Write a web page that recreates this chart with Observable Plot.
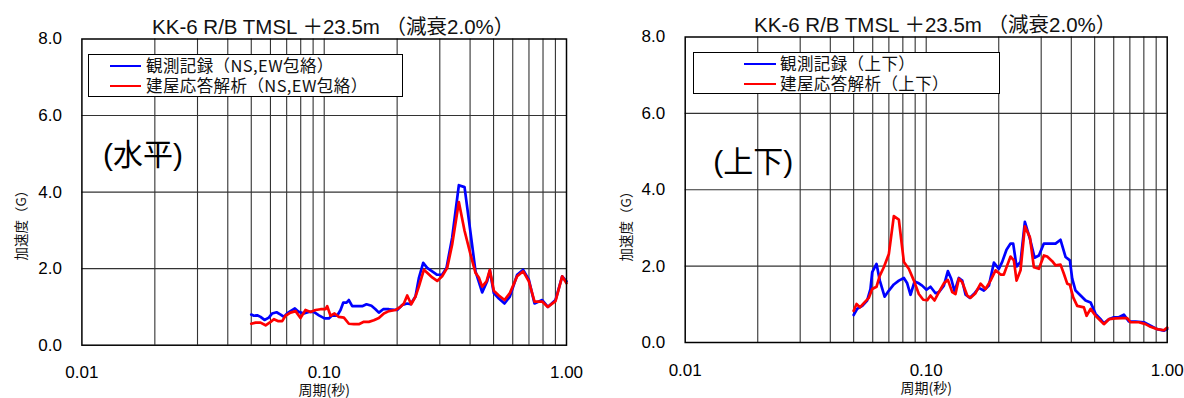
<!DOCTYPE html>
<html><head><meta charset="utf-8">
<script src="https://cdn.jsdelivr.net/npm/d3@7"></script>
<script src="https://cdn.jsdelivr.net/npm/@observablehq/plot@0.6"></script>
<style>
body{margin:0;background:#fff;}
#wrap{position:relative;width:1184px;height:398px;overflow:hidden;font-family:"Liberation Sans","Noto Sans CJK JP",sans-serif;}
.panel{position:absolute;top:0;width:592px;height:398px;}
.legend{position:absolute;border:1px solid #000;background:#fff;box-sizing:border-box;}
.item{position:absolute;font-size:16.5px;line-height:17px;height:17px;white-space:nowrap;font-family:"Noto Sans CJK JP",sans-serif;color:#111;letter-spacing:0.4px;}
.swatch{position:absolute;height:2px;}
.ylab{position:absolute;font-size:13.5px;line-height:14px;white-space:nowrap;font-family:"Noto Sans CJK JP",sans-serif;color:#111;transform:translate(-50%,-50%) rotate(-90deg);}
</style>
</head><body>
<div id="wrap"></div>
<script>
// ---- data ----
const titleText = "KK-6 R/B TMSL ＋23.5m （減衰2.0%）";
const xTickValues = [0.01, 0.1, 1];
const yTickValues = [0, 2, 4, 6, 8];
const xGrid = [0.02,0.03,0.04,0.05,0.06,0.07,0.08,0.09,0.1,0.2,0.3,0.4,0.5,0.6,0.7,0.8,0.9];
const yGrid = [2, 4, 6];
const xLabel = "周期(秒)";
const yLabel = "加速度（G）";

// Left: horizontal (水平)
const hLabel = "(水平)";
const hLegend = ["観測記録（NS,EW包絡）", "建屋応答解析（NS,EW包絡）"];
const hObsT = [0.050,0.0513,0.0529,0.0546,0.0567,0.0591,0.0610,0.0636,0.0661,0.0682,0.0703,0.0726,0.0757,0.0786,0.0824,0.0864,0.0906,0.0951,0.1003,0.1045,0.1079,0.1131,0.1168,0.1198,0.1237,0.1264,0.1305,0.1368,0.1435,0.1495,0.1567,0.1628,0.1681,0.1752,0.1849,0.2001,0.2099,0.2201,0.2272,0.2381,0.2458,0.2562,0.2661,0.2791,0.2926,0.3068,0.3197,0.3374,0.3595,0.3795,0.4017,0.4212,0.4487,0.4706,0.4826,0.5013,0.5257,0.5548,0.5837,0.6257,0.6625,0.6993,0.7379,0.7938,0.8375,0.9007,0.9596,1.0];
const hObsV = [0.80,0.77,0.78,0.74,0.66,0.72,0.83,0.86,0.80,0.74,0.83,0.89,0.96,0.87,0.83,0.87,0.87,0.78,0.70,0.70,0.78,0.77,0.92,1.11,1.11,1.18,1.02,1.02,1.02,1.07,1.03,0.94,0.85,0.94,0.94,0.92,1.05,1.09,1.07,1.27,1.75,2.15,2.02,1.93,1.84,1.84,2.02,2.81,4.18,4.13,2.94,1.93,1.38,1.67,1.95,1.36,1.22,1.09,1.27,1.84,1.97,1.71,1.09,1.18,1.00,1.18,1.80,1.67];
const hAnaT = [0.050,0.0521,0.0546,0.0573,0.0601,0.0620,0.0644,0.0671,0.0692,0.0726,0.0762,0.0798,0.0837,0.0878,0.0921,0.0966,0.1013,0.1029,0.1062,0.1103,0.1149,0.1206,0.1264,0.1326,0.1390,0.1458,0.1528,0.1603,0.1681,0.1763,0.1849,0.1970,0.2065,0.2132,0.2201,0.2286,0.2381,0.2458,0.2578,0.2661,0.2791,0.2926,0.3068,0.3218,0.3374,0.3595,0.3795,0.4017,0.4212,0.4347,0.4487,0.4676,0.4826,0.5013,0.5257,0.5548,0.5837,0.6257,0.6625,0.6993,0.7379,0.7938,0.8375,0.9007,0.9596,1.0];
const hAnaV = [0.56,0.59,0.59,0.52,0.61,0.68,0.63,0.63,0.77,0.85,0.89,0.71,0.92,0.87,0.92,0.94,0.94,1.02,0.77,0.83,0.74,0.72,0.56,0.55,0.55,0.61,0.61,0.65,0.71,0.83,0.89,0.92,1.00,1.09,1.30,1.07,1.27,1.53,1.97,1.89,1.77,1.68,1.80,2.02,2.63,3.74,2.99,2.37,1.89,1.77,1.53,1.67,1.97,1.42,1.30,1.18,1.36,1.80,1.93,1.67,1.14,1.14,1.00,1.15,1.80,1.62];

// Right: vertical (上下)
const vLabel = "(上下)";
const vLegend = ["観測記録（上下）", "建屋応答解析（上下）"];
const vObsT = [0.050,0.0517,0.0543,0.0569,0.0587,0.0597,0.0622,0.0642,0.0672,0.0700,0.0734,0.0770,0.0808,0.0834,0.0861,0.0895,0.0932,0.0962,0.1003,0.1042,0.1093,0.1129,0.1184,0.1230,0.1270,0.1311,0.1366,0.1411,0.1457,0.1518,0.1577,0.1654,0.1735,0.1820,0.1909,0.2002,0.2067,0.2154,0.2239,0.2296,0.2371,0.2463,0.2567,0.2693,0.2816,0.2935,0.3078,0.3280,0.3441,0.3609,0.3786,0.3947,0.4035,0.4165,0.4370,0.4585,0.4809,0.5043,0.5290,0.5461,0.5728,0.6009,0.6301,0.6610,0.6933,0.7389,0.8001,0.8527,0.9088,0.9687,1.0];
const vObsV = [0.72,0.88,0.96,1.10,1.40,1.84,2.06,1.62,1.20,1.36,1.52,1.62,1.69,1.55,1.25,1.60,1.55,1.49,1.38,1.46,1.29,1.32,1.49,1.87,1.67,1.34,1.69,1.62,1.25,1.17,1.27,1.43,1.36,1.49,2.09,1.93,2.11,2.43,2.59,2.59,1.99,2.11,3.16,2.72,2.22,2.28,2.59,2.59,2.59,2.69,2.24,2.15,1.67,1.36,1.23,1.10,1.05,0.75,0.61,0.50,0.61,0.66,0.66,0.73,0.55,0.55,0.53,0.44,0.35,0.31,0.35];
const vAnaT = [0.050,0.0514,0.0531,0.0551,0.0578,0.0597,0.0622,0.0642,0.0667,0.0700,0.0734,0.0770,0.0808,0.0847,0.0889,0.0932,0.0972,0.1010,0.1042,0.1083,0.1129,0.1184,0.1230,0.1282,0.1323,0.1366,0.1411,0.1480,0.1528,0.1602,0.1681,0.1763,0.1849,0.1940,0.2034,0.2100,0.2168,0.2239,0.2311,0.2371,0.2463,0.2567,0.2693,0.2798,0.2935,0.3078,0.3177,0.3333,0.3441,0.3609,0.3726,0.3847,0.3947,0.4074,0.4232,0.4512,0.4629,0.4809,0.5043,0.5290,0.5461,0.5728,0.6105,0.6506,0.6823,0.7045,0.7628,0.8130,0.8527,0.9088,0.9687,1.0];
const vAnaV = [0.83,1.01,0.92,1.03,1.17,1.40,1.46,1.75,1.97,2.32,3.31,3.22,2.11,1.93,1.62,1.27,1.12,1.11,1.23,1.10,1.32,1.55,1.64,1.32,1.27,1.67,1.58,1.23,1.17,1.29,1.54,1.40,1.62,1.89,1.78,1.78,2.02,2.25,2.15,1.62,1.89,3.04,2.76,1.97,1.93,2.28,2.25,2.13,2.02,2.04,1.80,1.54,1.51,1.18,0.96,0.92,0.70,0.88,0.70,0.57,0.48,0.61,0.63,0.64,0.64,0.53,0.53,0.48,0.41,0.35,0.32,0.39];

// ---- drawing ----
const FONT = '"Liberation Sans","Noto Sans CJK JP",sans-serif';
const CJK = '"Noto Sans CJK JP",sans-serif';

function makePanel(o) {
  const obs = o.obsT.map((t, i) => ({t, v: o.obsV[i]}));
  const ana = o.anaT.map((t, i) => ({t, v: o.anaV[i]}));
  return Plot.plot({
    width: 592, height: 398,
    marginLeft: o.ml, marginRight: o.mr, marginTop: o.mt, marginBottom: o.mb,
    style: {fontFamily: FONT, fontSize: "17px", color: "#000", background: "transparent", overflow: "visible"},
    x: {type: "log", domain: [0.01, 1], ticks: xTickValues, tickFormat: d => d.toFixed(2), tickSize: 0, tickPadding: 21, label: null},
    y: {domain: [0, 8], ticks: yTickValues, tickFormat: d => d.toFixed(1), tickSize: 0, tickPadding: 20, label: null},
    marks: [
      Plot.ruleX(xGrid, {stroke: "#333", strokeWidth: 1.1}),
      Plot.ruleY(yGrid, {stroke: "#333", strokeWidth: 1.1}),
      Plot.line(obs, {x: "t", y: "v", stroke: "#0000ff", strokeWidth: 2.7, strokeLinejoin: "round"}),
      Plot.line(ana, {x: "t", y: "v", stroke: "#ff0000", strokeWidth: 2.7, strokeLinejoin: "round"}),
      Plot.frame({stroke: "#000", strokeWidth: 1.5}),
      Plot.text([titleText], {frameAnchor: "top", dx: 9, dy: -20, fontSize: 20.5, fontFamily: FONT, fill: "#111"}),
      Plot.text([xLabel], {frameAnchor: "bottom", dy: 50, fontSize: 14, fontFamily: CJK, fill: "#111"}),
      Plot.text([o.label], {frameAnchor: "top-left", textAnchor: "start", dx: o.lx, dy: o.ly, fontSize: 30, fontFamily: FONT, fill: "#000"})
    ]
  });
}

const wrap = document.getElementById("wrap");
function addPanel(left, cfg, leg, ylab) {
  const div = document.createElement("div");
  div.className = "panel";
  div.style.left = left + "px";
  div.appendChild(makePanel(cfg));
  const yl = document.createElement("div");
  yl.className = "ylab";
  yl.textContent = yLabel;
  Object.assign(yl.style, {left: ylab.x + "px", top: ylab.y + "px"});
  div.appendChild(yl);
  const box = document.createElement("div");
  box.className = "legend";
  Object.assign(box.style, {left: leg.x + "px", top: leg.y + "px", width: leg.w + "px", height: leg.h + "px"});
  [["#0000ff", leg.texts[0], leg.y1], ["#ff0000", leg.texts[1], leg.y2]].forEach(([c, t, yy]) => {
    const sw = document.createElement("div");
    sw.className = "swatch";
    Object.assign(sw.style, {left: leg.sx + "px", width: leg.sw + "px", top: (yy - 1) + "px", background: c});
    box.appendChild(sw);
    const tx = document.createElement("div");
    tx.className = "item";
    tx.textContent = t;
    Object.assign(tx.style, {left: leg.tx + "px", top: (yy - 9) + "px"});
    box.appendChild(tx);
  });
  div.appendChild(box);
  wrap.appendChild(div);
}

addPanel(0, {obsT: hObsT, obsV: hObsV, anaT: hAnaT, anaV: hAnaV, label: hLabel,
  ml: 81.4, mr: 26, mt: 38.5, mb: 53.3, lx: 21, ly: 105},
  {x: 88, y: 54, w: 315, h: 43, sx: 21, sw: 31, tx: 57, y1: 11, y2: 31, texts: hLegend},
  {x: 20, y: 222});
addPanel(592, {obsT: vObsT, obsV: vObsV, anaT: vAnaT, anaV: vAnaV, label: vLabel,
  ml: 92.7, mr: 17.3, mt: 36.5, mb: 56, lx: 28, ly: 114},
  {x: 101, y: 51.5, w: 307, h: 42, sx: 50, sw: 32, tx: 86, y1: 11, y2: 31, texts: vLegend},
  {x: 33, y: 223});
</script>
</body></html>
